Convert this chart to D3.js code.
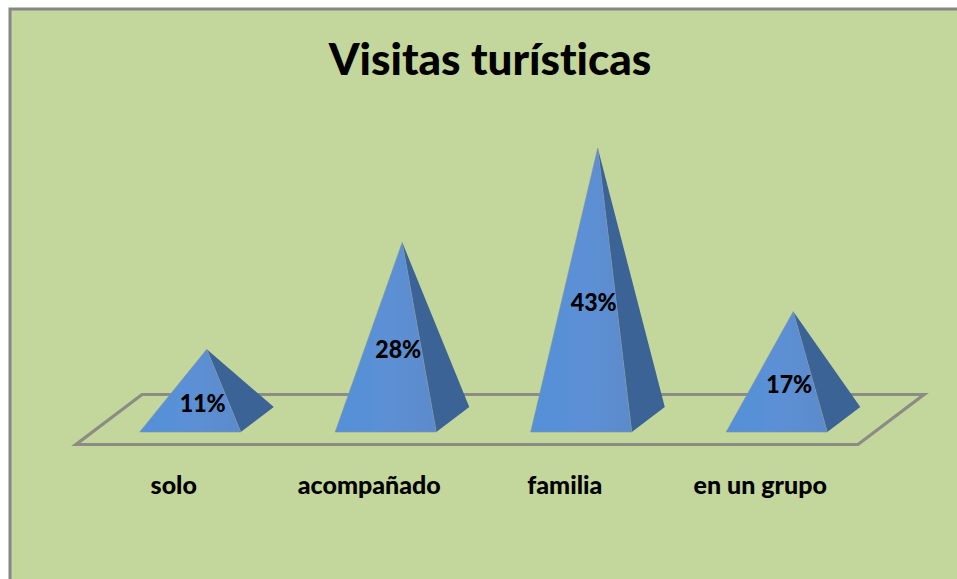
<!DOCTYPE html>
<html><head><meta charset="utf-8">
<script src="https://cdn.jsdelivr.net/npm/d3@7/dist/d3.min.js"></script>
<style>html,body{margin:0;padding:0;background:#fff;overflow:hidden}svg{display:block}text{font-family:Lato,"Open Sans",sans-serif;font-weight:900;fill:#000;font-variant-ligatures:none}</style>
</head><body><div id="c"></div>
<script>
const categories = ["solo", "acompañado", "familia", "en un grupo"];
const values = [11, 28, 43, 17];
const title = "Visitas turísticas";

const W = 957, H = 579;
const svg = d3.select("#c").append("svg").attr("width", W).attr("height", H);
const defs = svg.append("defs");
const g = defs.append("linearGradient").attr("id", "front").attr("x1", 0).attr("x2", 1).attr("y1", 0).attr("y2", 0);
g.append("stop").attr("offset", "0").attr("stop-color", "#5390d8");
g.append("stop").attr("offset", "0.45").attr("stop-color", "#5b90d6");
g.append("stop").attr("offset", "1").attr("stop-color", "#5c8bcb");
defs.append("filter").attr("id", "soft").append("feGaussianBlur").attr("stdDeviation", 0.5);

// chart frame
svg.append("rect").attr("x", 10).attr("y", 9).attr("width", W + 20).attr("height", H + 20)
  .attr("fill", "#c3d69b").attr("stroke", "#868686").attr("stroke-width", 3);

// 3D floor geometry
const floor = { x0: 76, x1: 858, y: 444.5, dx: 66, dy: 50 };
const x = d3.scaleBand().domain(categories).range([floor.x0, floor.x1]).paddingInner(0.483).paddingOuter(0.2415);
const y = d3.scaleLinear().domain([0, 43]).range([418.5, 148]);

const fl = d3.line();
svg.append("path")
  .attr("d", fl([[floor.x0, floor.y], [floor.x1, floor.y], [floor.x1 + floor.dx, floor.y - floor.dy], [floor.x0 + floor.dx, floor.y - floor.dy]]) + "Z")
  .attr("fill", "none").attr("stroke", "#8c8c84").attr("stroke-width", 3.2).attr("stroke-linejoin", "miter");

const baseOffX = floor.dx / 4, baseOffY = floor.dy / 4;
const depthX = floor.dx / 2, depthY = floor.dy / 2;
const rows = categories.map((c, i) => ({ c, v: values[i] }));
const bars = svg.selectAll("g.bar").data(rows).join("g").attr("class", "bar").attr("filter", "url(#soft)");
const geom = d => {
  const xl = x(d.c) + baseOffX, xr = xl + x.bandwidth(), yb = floor.y - baseOffY;
  const apex = [(xl + xr) / 2 + depthX / 2, y(d.v)];
  return { xl, xr, yb, apex };
};
bars.append("path").attr("d", d => { const p = geom(d);
  return fl([[p.xr, p.yb], [p.xr + depthX, p.yb - depthY], p.apex]) + "Z"; })
  .attr("fill", "#3b6395");
bars.append("path").attr("d", d => { const p = geom(d);
  return fl([[p.xl, p.yb], [p.xr, p.yb], p.apex]) + "Z"; })
  .attr("fill", "url(#front)").attr("stroke", "#7f93a8").attr("stroke-width", 0.6);

// value labels
svg.selectAll("text.val").data(rows).join("text").attr("class", "val")
  .attr("text-anchor", "middle").attr("font-size", 25)
  .attr("x", d => geom(d).apex[0] - 4)
  .attr("y", d => (geom(d).apex[1] + geom(d).yb) / 2 + 21)
  .attr("textLength", 46).attr("lengthAdjust", "spacingAndGlyphs")
  .text(d => d.v + "%");

// category labels
svg.selectAll("text.cat").data(categories).join("text").attr("class", "cat")
  .attr("text-anchor", "middle").attr("font-size", 25)
  .attr("x", d => x(d) + x.bandwidth() / 2)
  .attr("y", 494)
  .text(d => d);

svg.append("text").attr("x", 490).attr("y", 75).attr("text-anchor", "middle").attr("font-size", 44).text(title);
</script></body></html>
